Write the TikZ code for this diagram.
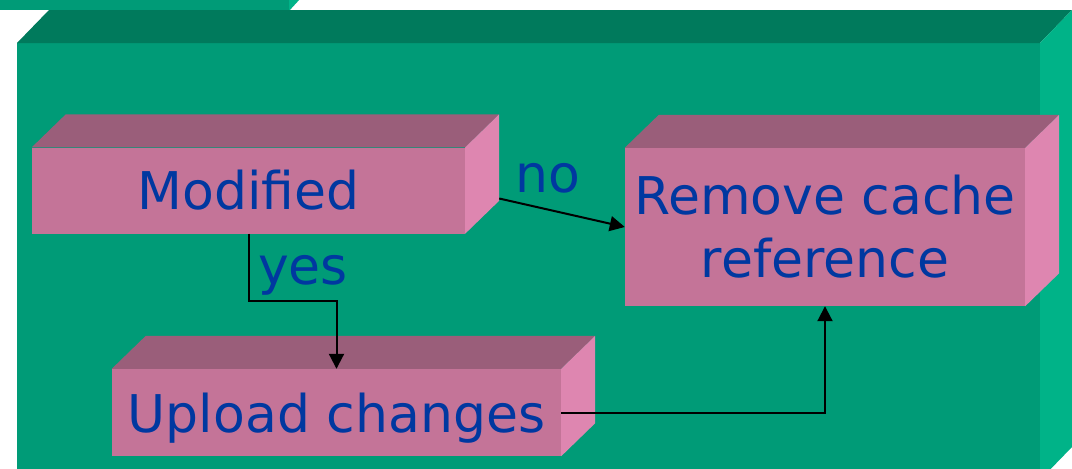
\documentclass[tikz,border=0pt]{standalone}
\usepackage{fontspec}
\setmainfont{DejaVu Sans}
\usetikzlibrary{arrows.meta,calc}
\definecolor{grfront}{RGB}{0,155,119}
\definecolor{grtop}{RGB}{0,122,92}
\definecolor{grside}{RGB}{0,179,136}
\definecolor{pkfront}{RGB}{196,116,152}
\definecolor{pktop}{RGB}{154,94,122}
\definecolor{pkside}{RGB}{222,134,176}
\definecolor{txtblue}{RGB}{0,56,160}
\tikzset{
  slab/.style={rectangle,fill=pkfront,inner sep=0pt,align=center,text=txtblue,
    font=\fontsize{52}{63}\selectfont},
  lbl/.style={text=txtblue,font=\fontsize{52}{63}\selectfont,inner sep=0pt,anchor=base},
  arr/.style={-{Triangle[width=15pt,length=15pt]},line width=2pt}
}
% top and right faces of a pink slab
\newcommand{\slabfaces}[1]{%
  \fill[pktop] (#1.north west) -- ++(34,-33) -- ([shift={(34,-33)}]#1.north east) -- (#1.north east) -- cycle;
  \fill[pkside] (#1.north east) -- ++(34,-33) -- ([shift={(34,-33)}]#1.south east) -- (#1.south east) -- cycle;}
\begin{document}
\begin{tikzpicture}[x=1pt,y=-1pt]
  \useasboundingbox (0,0) rectangle (1072,469);
  \clip (0,0) rectangle (1072,469);
  % green slab behind everything
  \fill[grfront] (0,-5) rectangle (289,10);
  \fill[grside] (289,-1) -- (300,-1) -- (289,11) -- cycle;
  \fill[grfront] (17,43) rectangle (1040,480);
  \fill[grtop] (17,43) -- (49,10) -- (1072,10) -- (1040,43) -- cycle;
  \fill[grside] (1040,43) -- (1072,10) -- (1072,447) -- (1040,480) -- cycle;
  % the three steps
  \node[slab,minimum width=433pt,minimum height=86pt] (mod) at (248.5,190.5) {Modified};
  \node[slab,minimum width=400pt,minimum height=158pt] (rem) at (825,227) {Remove cache\\reference};
  \node[slab,minimum width=449pt,minimum height=87pt,text depth=0pt] (upl) at (336.5,412.5) {Upload changes};
  \slabfaces{mod}
  \slabfaces{rem}
  \slabfaces{upl}
  % connectors
  \draw[arr] ($(mod.east)+(34,8)$) -- (rem.west);
  \draw[arr] (mod.south) -- ++(0,67) -| (upl.north);
  \draw[arr] (upl.east) -| (rem.south);
  \node[lbl] (no) at (548,192) {no};
  \node[lbl] (yes) at (303,284) {yes};
\end{tikzpicture}
\end{document}
